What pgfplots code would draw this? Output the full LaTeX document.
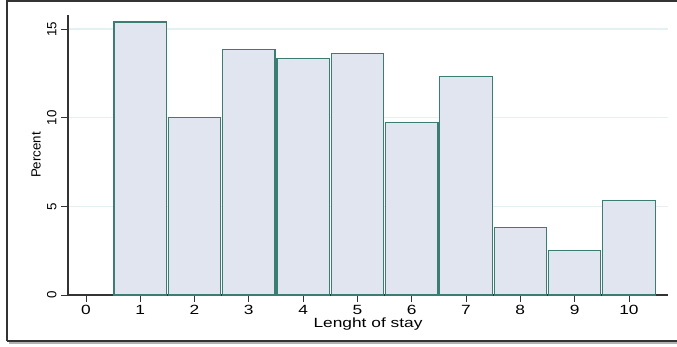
\documentclass[border=0pt]{standalone}
\usepackage{pgfplots}
\pgfplotsset{compat=1.18}
\usepackage{fontspec}
\setmainfont{Liberation Sans}
\definecolor{barfill}{HTML}{E0E5EF}
\definecolor{baredge}{HTML}{3C7D73}
\definecolor{gridc}{HTML}{E6F0F2}
\begin{document}
\begin{tikzpicture}
\useasboundingbox (0,0) rectangle (507.75pt,259.5pt);
% outer frame with shadow
\draw[gray!60, line width=1.5pt] (6.75pt,2.25pt) -- (510pt,2.25pt);
\draw[black!80, line width=1.2pt] (5.25pt,3.75pt) -- (5.25pt,258.75pt) -- (510pt,258.75pt);
\draw[black!80, line width=1.2pt] (5.25pt,3.75pt) -- (510pt,3.75pt);
\begin{axis}[
  at={(51pt,38.25pt)}, anchor=south west,
  scale only axis, width=450pt, height=210pt,
  xmin=-0.33, xmax=10.72, ymin=0, ymax=15.79,
  axis x line=bottom, axis y line=left,
  axis line style={-, black!80, line width=0.9pt},
  xtick={0,...,10}, ytick={0,5,10,15},
  tick align=outside, tick style={black!80, line width=0.6pt},
  major tick length=5pt,
  ymajorgrids, grid style={gridc, line width=0.8pt},
  yticklabel style={rotate=90, anchor=south, font=\fontsize{10}{12}\selectfont},
  xticklabel style={font=\fontsize{10}{12}\selectfont, xscale=1.3, yshift=1pt},
  ylabel={Percent}, xlabel={Lenght of stay},
  label style={font=\fontsize{10}{12}\selectfont},
  ylabel style={yshift=-2pt},
  xlabel style={xscale=1.3, yshift=4pt},
  /pgf/number format/assume math mode=true,
  clip=false,
]
\addplot[ybar, bar width=0.965, fill=barfill, draw=baredge, line width=0.9pt] coordinates {
(1,15.4) (2,10.0) (3,13.85) (4,13.35) (5,13.6) (6,9.75) (7,12.3) (8,3.8) (9,2.5) (10,5.35)
};
\end{axis}
\end{tikzpicture}
\end{document}
